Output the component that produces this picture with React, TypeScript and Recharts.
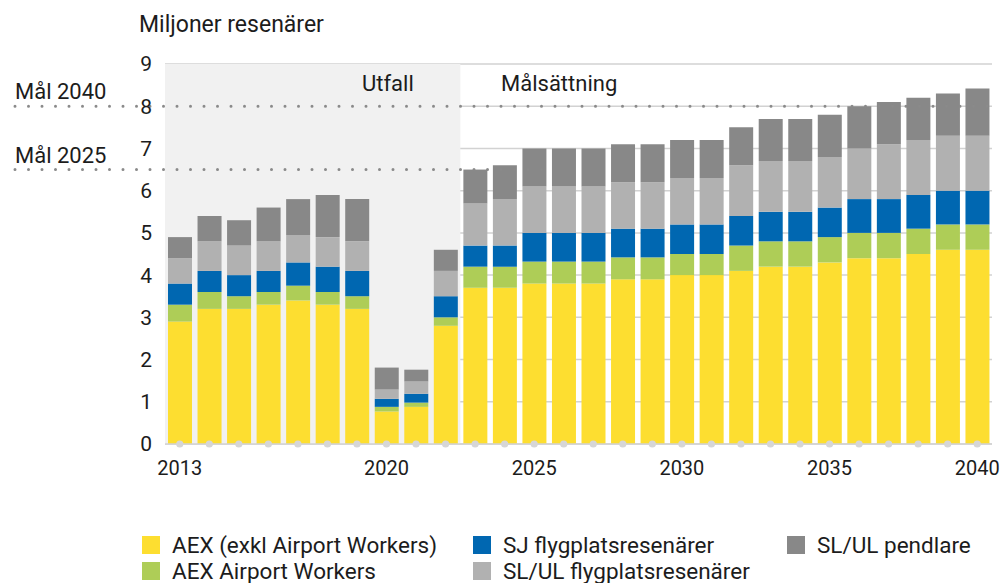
import React from "react";
import { BarChart, Bar, XAxis, YAxis, CartesianGrid, ReferenceArea, ReferenceLine } from "recharts";

const years = [
  2013, 2014, 2015, 2016, 2017, 2018, 2019, 2020, 2021, 2022,
  2023, 2024, 2025, 2026, 2027, 2028, 2029, 2030, 2031, 2032,
  2033, 2034, 2035, 2036, 2037, 2038, 2039, 2040,
];

// miljoner resenärer per segment
const aex = [
  2.9, 3.2, 3.2, 3.3, 3.4, 3.3, 3.2, 0.77, 0.88, 2.8,
  3.7, 3.7, 3.8, 3.8, 3.8, 3.9, 3.9, 4.0, 4.0, 4.1,
  4.2, 4.2, 4.3, 4.4, 4.4, 4.5, 4.6, 4.6,
];
const airportWorkers = [
  0.4, 0.4, 0.3, 0.3, 0.35, 0.3, 0.3, 0.11, 0.1, 0.2,
  0.5, 0.5, 0.52, 0.52, 0.52, 0.52, 0.52, 0.5, 0.5, 0.6,
  0.6, 0.6, 0.6, 0.6, 0.6, 0.6, 0.6, 0.6,
];
const sjFlyg = [
  0.5, 0.5, 0.5, 0.5, 0.55, 0.6, 0.6, 0.19, 0.21, 0.5,
  0.5, 0.5, 0.68, 0.68, 0.68, 0.68, 0.68, 0.7, 0.7, 0.7,
  0.7, 0.7, 0.7, 0.8, 0.8, 0.8, 0.8, 0.8,
];
const slulFlyg = [
  0.6, 0.7, 0.7, 0.7, 0.65, 0.7, 0.7, 0.22, 0.29, 0.6,
  1.0, 1.1, 1.1, 1.1, 1.1, 1.1, 1.1, 1.1, 1.1, 1.2,
  1.2, 1.2, 1.2, 1.2, 1.3, 1.3, 1.3, 1.3,
];
const slulPendlare = [
  0.5, 0.6, 0.6, 0.8, 0.85, 1.0, 1.0, 0.52, 0.28, 0.5,
  0.8, 0.8, 0.9, 0.9, 0.9, 0.9, 0.9, 0.9, 0.9, 0.9,
  1.0, 1.0, 1.0, 1.0, 1.0, 1.0, 1.0, 1.12,
];

const yTicks = [0, 1, 2, 3, 4, 5, 6, 7, 8, 9];
const labelYears = [2013, 2020, 2025, 2030, 2035, 2040];

const series = [
  { key: "aex", name: "AEX (exkl Airport Workers)", color: "#FDDE30", values: aex },
  { key: "aw", name: "AEX Airport Workers", color: "#AECD57", values: airportWorkers },
  { key: "sj", name: "SJ flygplatsresenärer", color: "#0067B1", values: sjFlyg },
  { key: "slf", name: "SL/UL flygplatsresenärer", color: "#B1B1B1", values: slulFlyg },
  { key: "slp", name: "SL/UL pendlare", color: "#888888", values: slulPendlare },
];

const data = years.map((year, i) => {
  const row: Record<string, number> = { year };
  series.forEach((s) => (row[s.key] = s.values[i]));
  return row;
});

const FONT = "Roboto, sans-serif";
const TEXT = "#1c1c1c";

function YearTick(props: any) {
  const { x, y, payload } = props;
  return (
    <g>
      <circle cx={x} cy={y} r={3.6} fill="#d6d6d6" />
      {labelYears.includes(payload.value) && (
        <text x={x} y={y + 31} textAnchor="middle" fontSize={20} fill={TEXT} fontFamily={FONT}>
          {payload.value}
        </text>
      )}
    </g>
  );
}

// dotted target line, pulled out to the left edge of the picture
const dotted = (extraRight: number) => (props: any) => {
  const { x2, y1 } = props;
  return (
    <line
      x1={15}
      x2={x2 + extraRight}
      y1={y1}
      y2={y1}
      stroke="#8a8a8a"
      strokeWidth={3}
      strokeDasharray="0 13.5"
      strokeLinecap="round"
    />
  );
};

export default function App() {
  return (
    <div style={{ position: "absolute", left: 0, top: 0, width: 1000, height: 583, fontFamily: FONT }}>
      <BarChart
        width={1000}
        height={583}
        data={data}
        margin={{ top: 64, right: 8, bottom: 109, left: 0 }}
        barSize={24}
      >
        <ReferenceArea x1={2013} x2={2022} y1={0} y2={9} fill="#f1f1f1" fillOpacity={1} stroke="none" />
        <CartesianGrid vertical={false} stroke="#d2d2d2" strokeWidth={1.5} />
        <YAxis
          domain={[0, 9]}
          ticks={yTicks}
          width={165}
          axisLine={false}
          tickLine={false}
          tickSize={0}
          tickMargin={13}
          tick={{ fontSize: 21, fill: TEXT, fontFamily: FONT }}
        />
        {series.map((s) => (
          <Bar key={s.key} dataKey={s.key} name={s.name} stackId="a" fill={s.color} isAnimationActive={false} />
        ))}
        <XAxis
          dataKey="year"
          interval={0}
          height={30}
          tickSize={0}
          tickMargin={0}
          tickLine={false}
          axisLine={{ stroke: "#d2d2d2", strokeWidth: 1.5 }}
          tick={<YearTick />}
        />
        <ReferenceLine y={8} shape={dotted(0)} />
        <ReferenceLine
          segment={[
            { x: 2013, y: 6.5 },
            { x: 2025, y: 6.5 },
          ]}
          shape={dotted(15)}
        />
      </BarChart>

      <svg
        width={1000}
        height={583}
        style={{ position: "absolute", left: 0, top: 0, pointerEvents: "none" }}
        fontFamily={FONT}
        fontSize={22}
        fill={TEXT}
      >
        <text x={139} y={32} fontSize={23}>Miljoner resenärer</text>
        <text x={362} y={91}>Utfall</text>
        <text x={501} y={91}>Målsättning</text>
        <text x={15} y={99}>Mål 2040</text>
        <text x={15} y={163}>Mål 2025</text>
      </svg>

      <div
        style={{
          position: "absolute",
          left: 142,
          top: 532,
          display: "grid",
          gridTemplateRows: "26px 26px",
          gridTemplateColumns: "331px 314px 200px",
          gridAutoFlow: "column",
          fontSize: 22.5,
          color: TEXT,
        }}
      >
        {series.map((s) => (
          <div key={s.key} style={{ display: "flex", alignItems: "center", whiteSpace: "nowrap", lineHeight: "26px" }}>
            <span style={{ width: 18, height: 18, background: s.color, marginRight: 12, display: "inline-block" }} />
            {s.name}
          </div>
        ))}
      </div>
    </div>
  );
}
